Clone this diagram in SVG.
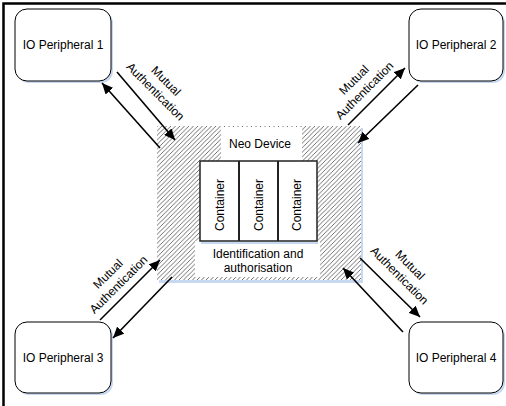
<svg xmlns="http://www.w3.org/2000/svg" width="506" height="406" viewBox="0 0 506 406">
<style>
text{font-family:"Liberation Sans",Arial,sans-serif;font-size:12px;fill:#000}
.box{fill:#fff;stroke:#000;stroke-width:1}
.shadow{fill:#c6d9f1;stroke:none}
.arrow{stroke:#000;stroke-width:1.6;fill:none;marker-end:url(#ah)}
.mid{text-anchor:middle}
</style>
<defs>
<marker id="ah" markerUnits="userSpaceOnUse" markerWidth="12" markerHeight="10" refX="11" refY="5" orient="auto">
<path d="M0,0 L11,5 L0,10 z" fill="#000"/>
</marker>
<pattern id="hatch" patternUnits="userSpaceOnUse" width="4.5" height="4.5">
<path d="M-1,1 L1,-1 M0,4.5 L4.5,0 M3.5,5.5 L5.5,3.5" stroke="#333" stroke-width="0.7"/>
</pattern>
</defs>
<rect x="0" y="0" width="506" height="406" fill="#fff"/>
<path d="M3.5,406 V3.5 H506" fill="none" stroke="#000" stroke-width="2.5"/>

<g id="neo-device">
<rect class="shadow" x="159" y="128" width="204" height="155"/>
<rect x="157" y="126" width="204" height="154" fill="#fff"/>
<rect x="157" y="126" width="204" height="154" fill="url(#hatch)"/>
<rect x="221" y="127" width="81" height="34" fill="#fff"/>
<rect x="195" y="241" width="125" height="36" fill="#fff"/>
<text class="mid" x="260" y="148">Neo Device</text>
<text class="mid" x="258" y="258">Identification and</text>
<text class="mid" x="258" y="272">authorisation</text>
</g>

<g id="containers">
<rect class="shadow" x="201" y="242" width="117" height="2"/>
<rect x="200" y="161" width="117" height="80" fill="#fff" stroke="#222" stroke-width="1.5"/>
<line x1="239" y1="161" x2="239" y2="241" stroke="#222" stroke-width="2"/>
<line x1="278" y1="161" x2="278" y2="241" stroke="#222" stroke-width="2"/>
<text class="mid" transform="translate(224,205) rotate(-90)">Container</text>
<text class="mid" transform="translate(263,205) rotate(-90)">Container</text>
<text class="mid" transform="translate(301,205) rotate(-90)">Container</text>
</g>

<g id="io-peripheral-1">
<rect class="shadow" x="17" y="11" width="96" height="72" rx="12"/>
<rect class="box" x="15" y="9" width="96" height="72" rx="12"/>
<text class="mid" x="63" y="49">IO Peripheral 1</text>
</g>
<g id="io-peripheral-2">
<rect class="shadow" x="411" y="11" width="94" height="72" rx="12"/>
<rect class="box" x="409" y="9" width="94" height="72" rx="12"/>
<text class="mid" x="456" y="49">IO Peripheral 2</text>
</g>
<g id="io-peripheral-3">
<rect class="shadow" x="17" y="324" width="96" height="71" rx="12"/>
<rect class="box" x="15" y="322" width="96" height="71" rx="12"/>
<text class="mid" x="63" y="362">IO Peripheral 3</text>
</g>
<g id="io-peripheral-4">
<rect class="shadow" x="411" y="324" width="94" height="71" rx="12"/>
<rect class="box" x="409" y="322" width="94" height="71" rx="12"/>
<text class="mid" x="456" y="362">IO Peripheral 4</text>
</g>

<g id="connectors">
<line class="arrow" x1="160" y1="148" x2="102" y2="83"/>
<line class="arrow" x1="117" y1="72" x2="175" y2="140"/>
<line class="arrow" x1="348" y1="125" x2="405" y2="68"/>
<line class="arrow" x1="418" y1="85" x2="358" y2="143"/>
<line class="arrow" x1="100" y1="320" x2="160" y2="260"/>
<line class="arrow" x1="172" y1="277" x2="113" y2="338"/>
<line class="arrow" x1="403" y1="332" x2="343" y2="268"/>
<line class="arrow" x1="360" y1="258" x2="420" y2="317"/>
</g>

<g id="labels">
<g transform="translate(166,81) rotate(45)"><text class="mid" y="4">Mutual</text><text class="mid" y="19">Authentication</text></g>
<g transform="translate(354,80) rotate(-45)"><text class="mid" y="4">Mutual</text><text class="mid" y="19">Authentication</text></g>
<g transform="translate(108,274) rotate(-45)"><text class="mid" y="4">Mutual</text><text class="mid" y="19">Authentication</text></g>
<g transform="translate(410,265) rotate(45)"><text class="mid" y="4">Mutual</text><text class="mid" y="19">Authentication</text></g>
</g>
</svg>
